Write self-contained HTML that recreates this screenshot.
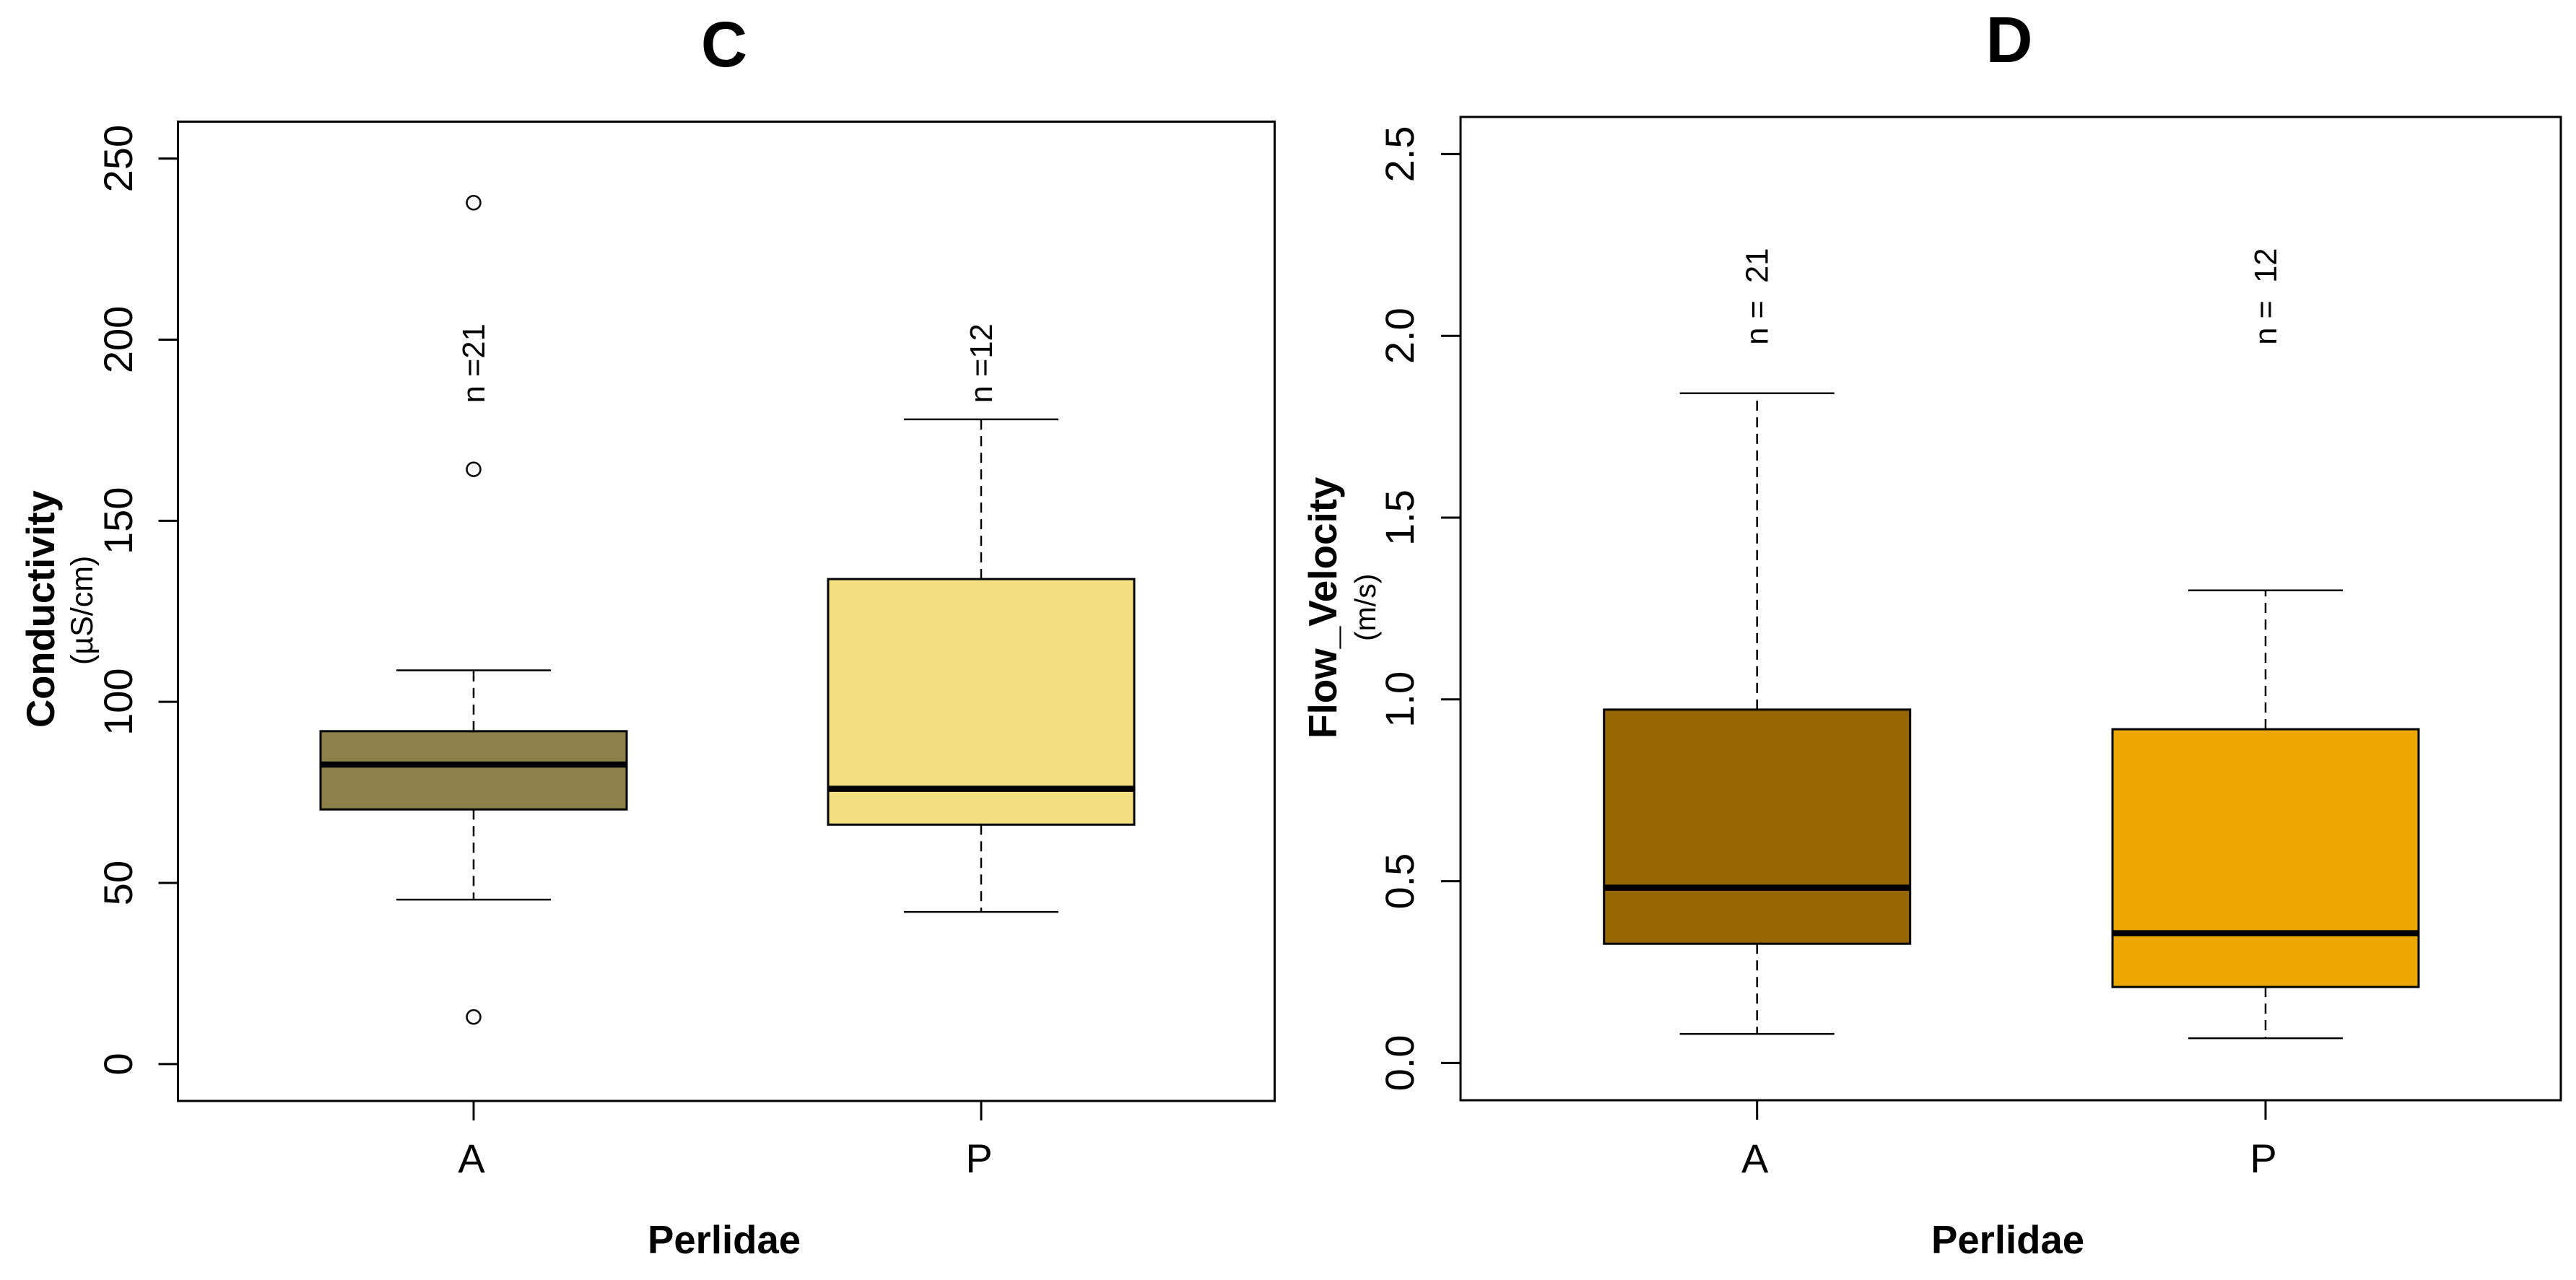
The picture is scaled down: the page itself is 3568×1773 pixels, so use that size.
<!DOCTYPE html>
<html lang="en">
<head>
<meta charset="utf-8">
<title>Perlidae boxplots: Conductivity and Flow Velocity</title>
<style>
  html, body { margin: 0; padding: 0; background: #ffffff; }
  svg { display: block; }
  text { font-family: "Liberation Sans", Arial, sans-serif; fill: #000000; white-space: pre; }
  .bold { font-weight: 700; }
</style>
</head>
<body>
<svg id="chart" xmlns="http://www.w3.org/2000/svg" width="3568" height="1773" viewBox="0 0 3568 1773">
  <rect x="0" y="0" width="3568" height="1773" fill="#ffffff"/>

  <g id="panel-c">
    <text class="bold" x="1003" y="92" font-size="89" text-anchor="middle">C</text>
    <rect x="246.5" y="168.5" width="1519" height="1356.5" fill="none" stroke="#000" stroke-width="3"/>
    <text class="bold" x="75" y="1008" font-size="54.3" transform="rotate(-90 75 1008)">Conductivity</text>
    <text x="128" y="921" font-size="43" transform="rotate(-90 128 921)">(µS/cm)</text>
    <text class="bold" x="897" y="1736" font-size="54.5">Perlidae</text>
  </g>

  <g id="panel-d">
    <text class="bold" x="2783" y="86" font-size="90" text-anchor="middle">D</text>
    <rect x="2023" y="162" width="1524" height="1362" fill="none" stroke="#000" stroke-width="3"/>
    <text class="bold" x="1851" y="1023" font-size="54.8" transform="rotate(-90 1851 1023)">Flow_Velocity</text>
    <text x="1905" y="888" font-size="41" transform="rotate(-90 1905 888)">(m/s)</text>
    <text class="bold" x="2675" y="1736" font-size="54.5">Perlidae</text>
  </g>
</svg>

<script>
// Shared category labels
const categories = ['A', 'P'];

// Panel C: conductivity (µS/cm)
const condTicks = [0, 50, 100, 150, 200, 250];
const condTickLabels = ['0', '50', '100', '150', '200', '250'];
const condLow = [45.4, 42];
const condQ1 = [70.3, 66.1];
const condMedian = [82.7, 76];
const condQ3 = [91.9, 133.9];
const condHigh = [108.7, 178];
const condOutliersA = [237.8, 164.2, 13];
const condOutliersP = [];
const condCounts = ['n =21', 'n =12'];
const condCountAt = [182.5, 182.5];
const condFills = ['#8e8049', '#f3de80'];

// Panel D: flow velocity (m/s)
const flowTicks = [0, 0.5, 1, 1.5, 2, 2.5];
const flowTickLabels = ['0.0', '0.5', '1.0', '1.5', '2.0', '2.5'];
const flowLow = [0.08, 0.068];
const flowQ1 = [0.328, 0.209];
const flowMedian = [0.482, 0.357];
const flowQ3 = [0.972, 0.918];
const flowHigh = [1.842, 1.30];
const flowOutliersA = [];
const flowOutliersP = [];
const flowCounts = ['n =  21', 'n =  12'];
const flowCountAt = [1.975, 1.975];
const flowFills = ['#966600', '#eba700'];

const SVG_NS = 'http://www.w3.org/2000/svg';

function make(parent, tag, name, attrs) {
  const el = document.createElementNS(SVG_NS, tag);
  
  
  Object.keys(attrs).forEach(function (k) { el.setAttribute(k, attrs[k]); });
  parent.appendChild(el);
  return el;
}

function segment(parent, name, x1, y1, x2, y2, width, dash) {
  const attrs = { x1: x1, y1: y1, x2: x2, y2: y2, stroke: '#000', 'stroke-width': width };
  if (dash) attrs['stroke-dasharray'] = dash;
  return make(parent, 'line', name, attrs);
}

function label(parent, name, str, x, y, size, anchor, rotated) {
  const attrs = { x: x, y: y, 'font-size': size, 'text-anchor': anchor };
  if (rotated) attrs.transform = 'rotate(-90 ' + x + ' ' + y + ')';
  const t = make(parent, 'text', name, attrs);
  t.textContent = str;
  return t;
}

function drawPanel(cfg) {
  const g = document.getElementById(cfg.id);
  const prefix = cfg.id + '-';

  // y axis ticks and labels
  cfg.ticks.forEach(function (v, i) {
    const y = cfg.y(v);
    segment(g, prefix + 'y-tick-' + cfg.tickLabels[i], cfg.frameLeft - 27, y, cfg.frameLeft, y, 3);
    label(g, prefix + 'y-tick-label-' + cfg.tickLabels[i], cfg.tickLabels[i], cfg.tickLabelX, y, 56, 'middle', true);
  });

  categories.forEach(function (cat, i) {
    const cx = cfg.x(i);
    const hw = cfg.boxHalf;
    const cap = cfg.capHalf;
    const key = prefix + cat.toLowerCase() + '-';

    // x axis tick and label
    segment(g, prefix + 'x-tick-' + cat, cx, cfg.frameBottom, cx, cfg.frameBottom + 27, 3);
    label(g, prefix + 'x-tick-label-' + cat, cat, cx - 3, 1624, 56, 'middle', false);

    // whiskers
    segment(g, key + 'upper-whisker', cx, cfg.y(cfg.q3[i]), cx, cfg.y(cfg.high[i]), 2.5, '14 9');
    segment(g, key + 'lower-whisker', cx, cfg.y(cfg.q1[i]), cx, cfg.y(cfg.low[i]), 2.5, '14 9');
    segment(g, key + 'upper-cap', cx - cap, cfg.y(cfg.high[i]), cx + cap, cfg.y(cfg.high[i]), 2.5);
    segment(g, key + 'lower-cap', cx - cap, cfg.y(cfg.low[i]), cx + cap, cfg.y(cfg.low[i]), 2.5);

    // box and median
    make(g, 'rect', key + 'box', {
      x: cx - hw,
      y: cfg.y(cfg.q3[i]),
      width: hw * 2,
      height: cfg.y(cfg.q1[i]) - cfg.y(cfg.q3[i]),
      fill: cfg.fills[i],
      stroke: '#000',
      'stroke-width': 3
    });
    segment(g, key + 'median', cx - hw, cfg.y(cfg.median[i]), cx + hw, cfg.y(cfg.median[i]), 8.5);

    // outliers
    cfg.outliers[i].forEach(function (v, k) {
      make(g, 'circle', key + 'outlier-' + k, {
        cx: cx,
        cy: cfg.y(v),
        r: 9.5,
        fill: 'none',
        stroke: '#000',
        'stroke-width': 2.5
      });
    });

    // sample size annotation
    label(g, key + 'sample-size', cfg.counts[i], cx + 15, cfg.y(cfg.countAt[i]), 43.5, 'start', true);
  });
}

drawPanel({
  id: 'panel-c',
  frameLeft: 246.5,
  frameBottom: 1525,
  tickLabelX: 183,
  boxHalf: 212,
  capHalf: 107,
  x: function (i) { return 656 + i * 703; },
  y: function (v) { return 1473.9 - v * 5.0172; },
  ticks: condTicks,
  tickLabels: condTickLabels,
  low: condLow,
  q1: condQ1,
  median: condMedian,
  q3: condQ3,
  high: condHigh,
  outliers: [condOutliersA, condOutliersP],
  counts: condCounts,
  countAt: condCountAt,
  fills: condFills
});

drawPanel({
  id: 'panel-d',
  frameLeft: 2023,
  frameBottom: 1524,
  tickLabelX: 1958,
  boxHalf: 212,
  capHalf: 107,
  x: function (i) { return 2433.7 + i * 704.3; },
  y: function (v) { return 1472.4 - v * 503.6; },
  ticks: flowTicks,
  tickLabels: flowTickLabels,
  low: flowLow,
  q1: flowQ1,
  median: flowMedian,
  q3: flowQ3,
  high: flowHigh,
  outliers: [flowOutliersA, flowOutliersP],
  counts: flowCounts,
  countAt: flowCountAt,
  fills: flowFills
});
</script>
</body>
</html>
